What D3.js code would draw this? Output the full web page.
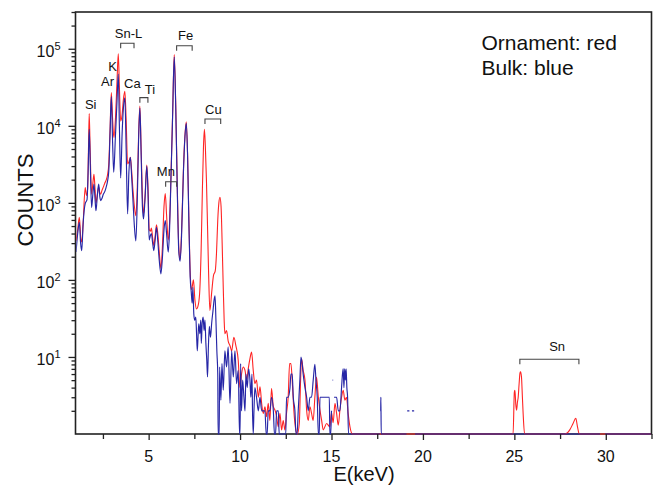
<!DOCTYPE html>
<html><head><meta charset="utf-8">
<script src="https://cdn.jsdelivr.net/npm/d3@7"></script>
<style>
body{margin:0;background:#fff}
svg{display:block}
text{font-family:"Liberation Sans",Arial,Helvetica,sans-serif;fill:#111}
</style>
</head><body>
<svg id="chart" width="654" height="487"></svg>
<script>
// ---- data (energy keV, counts) ----
const redSpectrum = [
[1.03,320],[1.12,450],[1.21,650],[1.29,350],[1.35,310],[1.42,560],[1.53,1580],[1.60,1250],[1.66,1500],[1.71,5000],
[1.75,14400],[1.80,5000],[1.88,1300],[1.95,1800],[2.01,2350],[2.07,1500],[2.12,1000],[2.20,1300],[2.27,1600],[2.33,1350],
[2.38,1300],[2.45,1450],[2.52,1600],[2.60,1800],[2.67,1950],[2.75,2300],[2.82,3200],[2.89,9000],[2.96,27000],[3.03,12000],
[3.10,7000],[3.19,13000],[3.27,38000],[3.34,86000],[3.40,32000],[3.47,11500],[3.55,14000],[3.62,22000],[3.70,28000],[3.77,12000],
[3.85,3200],[3.92,3400],[4.00,3900],[4.07,2600],[4.15,1400],[4.22,900],[4.30,680],[4.38,1600],[4.45,7500],[4.52,18000],
[4.59,5000],[4.66,1200],[4.72,720],[4.80,1200],[4.90,3100],[4.97,1500],[5.03,450],[5.10,430],[5.15,470],[5.22,350],
[5.28,280],[5.35,360],[5.43,520],[5.50,400],[5.58,230],[5.67,140],[5.75,260],[5.84,900],[5.91,1320],[5.98,700],
[6.07,330],[6.14,520],[6.22,2200],[6.31,14000],[6.40,84000],[6.48,20000],[6.57,1500],[6.65,260],[6.72,185],[6.80,420],
[6.90,2600],[6.98,7200],[7.06,11300],[7.13,4200],[7.20,650],[7.27,130],[7.35,75],[7.45,100],[7.53,55],[7.62,42],
[7.72,48],[7.80,75],[7.87,240],[7.94,1500],[8.00,5500],[8.05,9000],[8.10,5500],[8.16,2000],[8.22,500],[8.28,120],
[8.35,40],[8.45,70],[8.55,115],[8.64,130],[8.71,220],[8.78,600],[8.84,1000],[8.90,1180],[8.96,900],[9.02,300],
[9.08,80],[9.13,30],[9.17,20],[9.26,22],[9.35,16],[9.45,14],[9.54,12],[9.66,18],[9.77,14],[9.90,9],
[9.99,4],[10.08,6],[10.17,7.4],[10.27,6.7],[10.36,5.0],[10.45,7.1],[10.54,9.5],[10.63,11.6],[10.72,6.7],[10.81,4.5],
[10.90,5],[11.00,3],[11.09,4.1],[11.18,2.5],[11.27,1.85],[11.36,2.26],[11.45,1.68],[11.54,2.5],[11.63,1.5],[11.72,3.9],
[11.82,2.26],[11.91,2.04],[12.00,1.68],[12.09,1.24],[12.18,1.85],[12.27,1.13],[12.36,1.5],[12.45,1.13],[12.54,1.85],[12.63,3],
[12.71,8.2],[12.78,8.2],[12.87,4.1],[12.94,2.04],[13.05,1.13],[13.13,0.9],[13.24,1.37],[13.31,5],[13.36,9.5],[13.45,6.7],
[13.55,5],[13.64,2.04],[13.73,1.5],[13.82,2.26],[13.91,1.85],[14.00,1.5],[14.09,3],[14.18,5.5],[14.28,3],[14.37,2.04],
[14.46,1.5],[14.55,1.13],[14.73,1.37],[14.91,1.24],[15.00,1.9],[15.09,1.4],[15.19,2.5],[15.28,1.85],[15.37,1.3],[15.46,2.04],
[15.55,3],[15.64,3.7],[15.73,2.75],[15.82,3],[15.91,1.85],[16.01,1.24],[16.15,0.9],[16.30,0.5],
[24.90,0.5],[24.93,1.0],[25.00,3.5],[25.03,3.7],[25.08,2.4],[25.12,2.04],[25.17,2.6],[25.21,3.0],[25.26,4.5],[25.31,6.2],
[25.34,6.4],[25.39,5.5],[25.44,3.0],[25.48,1.85],[25.56,0.9],[25.60,0.5],
[27.70,0.5],[27.76,1.0],[28.03,1.13],[28.21,1.37],[28.36,1.6],[28.45,1.25],[28.55,1.0],[28.60,0.5],[32.50,0.5]
];

const blueSpectrum = [
[1.03,230],[1.12,400],[1.21,560],[1.28,300],[1.34,240],[1.42,550],[1.53,980],[1.63,1100],[1.69,2500],[1.75,9000],
[1.81,3000],[1.88,870],[1.95,1300],[2.01,1750],[2.07,1100],[2.12,790],[2.20,1300],[2.27,1750],[2.33,1200],[2.38,1070],
[2.45,1150],[2.52,1290],[2.60,1400],[2.67,1580],[2.75,1900],[2.82,2600],[2.89,8000],[2.96,24000],[3.03,6000],[3.09,2500],
[3.18,7000],[3.27,21000],[3.34,47000],[3.40,10000],[3.47,2100],[3.55,8000],[3.62,17000],[3.70,23000],[3.77,5000],[3.85,720],
[3.92,2500],[4.00,3900],[4.07,2200],[4.15,1000],[4.22,500],[4.30,320],[4.38,1100],[4.45,6500],[4.52,17000],[4.59,4200],
[4.66,900],[4.72,620],[4.80,1100],[4.90,3000],[4.97,1200],[5.03,330],[5.10,380],[5.15,400],[5.22,300],[5.28,240],
[5.35,320],[5.43,480],[5.50,320],[5.58,180],[5.67,120],[5.75,190],[5.84,450],[5.91,590],[5.98,400],[6.07,230],
[6.14,420],[6.22,2000],[6.31,13000],[6.40,78000],[6.48,18000],[6.57,1300],[6.65,230],[6.72,175],[6.80,370],[6.90,2400],
[6.98,6800],[7.06,10800],[7.13,4000],[7.20,550],[7.27,110],[7.33,70],[7.38,50],[7.42,80],[7.47,36],[7.52,30],
[7.58,33],[7.62,20],[7.66,12],[7.70,18],[7.74,27],[7.80,20],[7.85,30],[7.88,15],[7.93,28],[7.98,33],
[8.03,22],[8.08,30],[8.13,15],[8.18,9],[8.22,5.5],[8.27,14],[8.32,25],[8.38,18],[8.45,28],[8.52,40],
[8.58,55],[8.63,62],[8.68,30],[8.73,12],[8.78,6],[8.80,0.5],[8.86,0.5],[8.88,7.4],[8.95,2.75],[9.01,8.2],
[9.08,3.7],[9.17,12],[9.26,7.4],[9.35,13.5],[9.45,2.5],[9.54,12],[9.63,5.5],[9.72,12],[9.81,4.5],[9.90,6.7],
[9.97,0.5],[10.00,0.5],[10.03,8.2],[10.08,2],[10.14,5],[10.21,3],[10.27,2],[10.32,6],[10.39,4],[10.47,7],
[10.54,5],[10.59,3],[10.65,6],[10.68,2],[10.72,0.5],[10.76,2],[10.81,4],[10.90,3],[11.00,2],[11.09,3],
[11.18,2],[11.36,2],[11.43,0.5],[11.48,0.5],[11.54,2],[11.63,2],[11.72,3],[11.82,2],[11.88,0.5],[11.94,0.5],
[12.00,2],[12.09,2],[12.14,0.5],[12.50,0.5],[12.54,3],[12.63,3],[12.73,4],[12.78,6],[12.85,6],[12.91,3],
[13.00,2],[13.06,0.5],[13.12,0.5],[13.18,2],[13.27,5],[13.33,10],[13.40,8],[13.45,6],[13.55,4],[13.64,3],
[13.73,2],[13.82,3],[13.91,3],[14.00,5],[14.09,8],[14.15,5],[14.22,3],[14.28,0.5],[14.33,0.5],[14.37,3],
[14.88,3],[14.91,0.5],[14.96,0.5],[15.00,2],[15.03,null],[15.06,5],[15.09,5],[15.11,null],[15.14,3],[15.19,3],
[15.28,3],[15.37,2],[15.46,2],[15.55,4],[15.60,6],[15.64,7],[15.68,4],[15.72,7],[15.76,5],[15.80,7],
[15.84,4],[15.88,3],[15.93,0.5],[17.64,0.5],[17.66,null],[17.67,2],[17.69,2],[17.70,3],[17.72,0.5],[19.10,0.5],
[19.12,null],[19.14,2],[19.26,2],[19.30,null],[19.40,2],[19.52,2],[19.55,null],[19.57,0.5],[29.68,0.5],[29.70,null],
[29.95,null],[29.97,0.5],[32.50,0.5]
];

const xMajorTicks = [5, 10, 15, 20, 25, 30];
const xMinorTicks = [2.5, 7.5, 12.5, 17.5, 22.5, 27.5, 32.5];
const yMajorExponents = [1, 2, 3, 4, 5];

// peak labels: text, energy (keV), counts (data units of the baseline)
const peakLabelText = ["Si", "Ar", "K", "Ca", "Ti", "Sn-L", "Fe", "Cu", "Mn", "Sn"];
const peakLabelEnergy = [1.83, 2.75, 3.03, 4.11, 5.07, 3.90, 7.02, 8.54, 5.94, 27.34];
const peakLabelCounts = [16400, 32900, 50900, 30700, 25900, 138700, 131500, 14400, 2210, 12.05];

// brackets: start energy, end energy, counts level
const bracketStart = [3.47, 6.53, 4.52, 8.08, 5.93, 25.30];
const bracketEnd   = [4.20, 7.38, 4.96, 8.94, 6.53, 28.53];
const bracketCounts = [117700, 109600, 23200, 12250, 1880, 9.32];

const legendLines = ["Ornament: red", "Bulk: blue"];

// ---- drawing ----
const svg = d3.select("#chart");
const pLeft = 75.5, pRight = 651.5, pTop = 12, pBottom = 434;
const x = d3.scaleLinear().domain([1, 32.5]).range([pLeft, pRight]);
const y = d3.scaleLog().domain([1, 3e5]).range([pBottom, pTop]);

const axisColor = "#222";
// frame first so the spectra lying on the baseline draw over the bottom axis
svg.append("rect").attr("x", pLeft).attr("y", pTop).attr("width", pRight - pLeft).attr("height", pBottom - pTop)
  .attr("fill", "none").attr("stroke", axisColor).attr("stroke-width", 1.6);

svg.append("defs").append("clipPath").attr("id", "plotclip")
  .append("rect").attr("x", pLeft + 0.8).attr("y", pTop + 0.8).attr("width", pRight - pLeft - 1.6).attr("height", pBottom - pTop + 0.2);

const line = d3.line()
  .defined(d => d[1] != null)
  .x(d => x(d[0]))
  .y(d => y(Math.max(d[1], 1)))
  .curve(d3.curveMonotoneX);

const plot = svg.append("g").attr("clip-path", "url(#plotclip)");
plot.append("path").datum(redSpectrum).attr("d", line)
  .attr("fill", "none").attr("stroke", "#ff2424").attr("stroke-width", 1.1).attr("stroke-linejoin", "round");
plot.append("path").datum(blueSpectrum).attr("d", line)
  .attr("fill", "none").attr("stroke", "#2626a6").attr("stroke-width", 1.15).attr("stroke-linejoin", "round");

// axes
const gx = svg.append("g").attr("transform", `translate(0,${pBottom})`)
  .call(d3.axisBottom(x).tickValues(xMajorTicks).tickSize(6).tickFormat(""));
const gxm = svg.append("g").attr("transform", `translate(0,${pBottom})`)
  .call(d3.axisBottom(x).tickValues(xMinorTicks).tickSize(5).tickFormat(""));

const yMinor = [];
for (let d = 0; d <= 5; d++) for (let m = 2; m <= 9; m++) { const v = m * Math.pow(10, d); if (v <= 3e5) yMinor.push(v); }
const gy = svg.append("g").attr("transform", `translate(${pLeft},0)`)
  .call(d3.axisLeft(y).tickValues(yMajorExponents.map(p => Math.pow(10, p))).tickSize(7).tickFormat(""));
const gym = svg.append("g").attr("transform", `translate(${pLeft},0)`)
  .call(d3.axisLeft(y).tickValues(yMinor).tickSize(4).tickFormat(""));

[gx, gxm, gy, gym].forEach(g => {
  g.select(".domain").remove();
  g.selectAll(".tick line").attr("stroke", axisColor).attr("stroke-width", 1.3);
});

// x tick labels
svg.append("g").selectAll("text").data(xMajorTicks).join("text")
  .attr("x", d => x(d)).attr("y", 462).attr("text-anchor", "middle")
  .attr("font-size", 16).text(d => d);

// y tick labels
const ylab = svg.append("g").selectAll("text").data(yMajorExponents).join("text")
  .attr("x", 60.5).attr("y", d => y(Math.pow(10, d)) + 8).attr("text-anchor", "end").attr("font-size", 16);
ylab.append("tspan").text("10");
ylab.append("tspan").attr("dy", -7).attr("font-size", 11).text(d => d);

// axis titles
svg.append("text").attr("transform", "translate(33,200) rotate(-90)").attr("text-anchor", "middle")
  .attr("font-size", 22).text("COUNTS");
svg.append("text").attr("x", 364).attr("y", 481).attr("text-anchor", "middle")
  .attr("font-size", 20).text("E(keV)");

// legend text
svg.append("g").selectAll("text").data(legendLines).join("text")
  .attr("x", 481.5).attr("y", (d, i) => 50 + i * 25.3).attr("font-size", 21).text(d => d);

// peak labels
svg.append("g").selectAll("text").data(peakLabelText).join("text")
  .attr("x", (d, i) => x(peakLabelEnergy[i])).attr("y", (d, i) => y(peakLabelCounts[i]))
  .attr("text-anchor", "middle").attr("font-size", 13).text(d => d);

// brackets
svg.append("g").selectAll("path").data(bracketStart).join("path")
  .attr("d", (d, i) => {
    const x1 = x(bracketStart[i]), x2 = x(bracketEnd[i]), yy = y(bracketCounts[i]);
    return `M${x1},${yy + 5}V${yy}H${x2}V${yy + 5}`;
  })
  .attr("fill", "none").attr("stroke", "#444").attr("stroke-width", 1.1);
</script>
</body></html>
